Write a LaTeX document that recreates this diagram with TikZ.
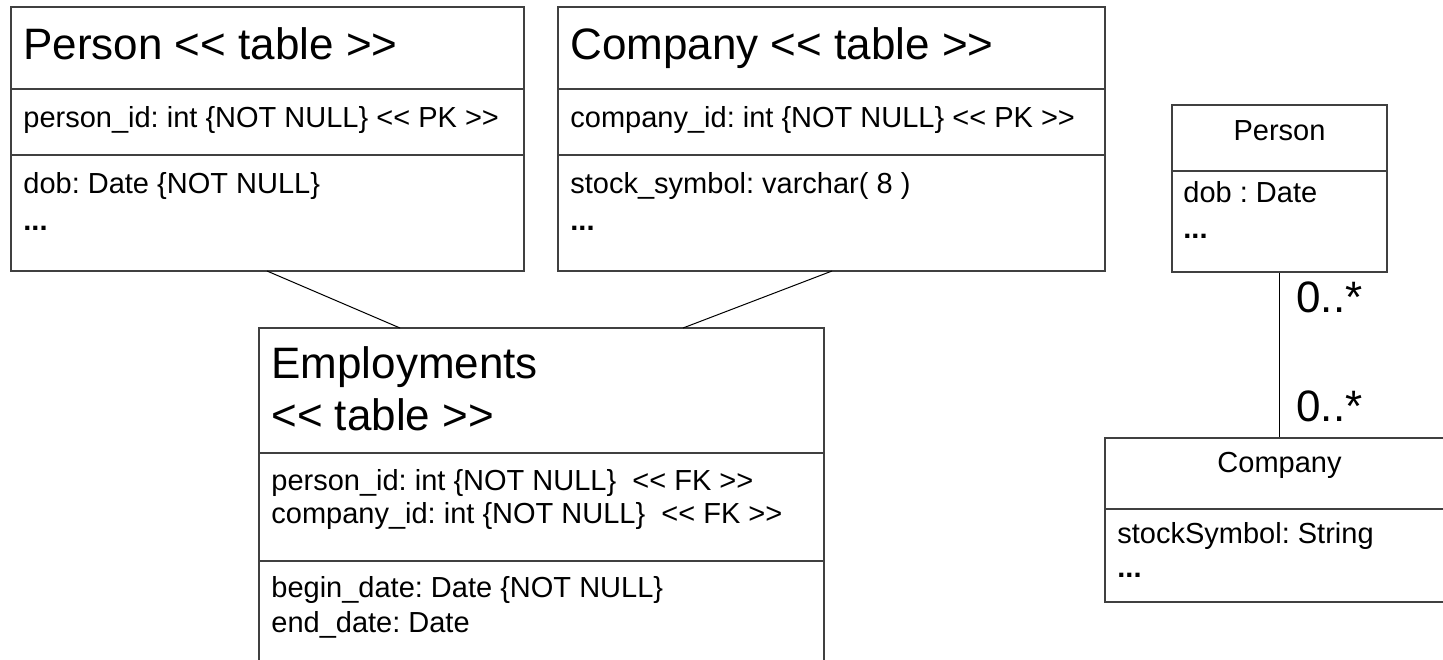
\documentclass[tikz,border=0pt]{standalone}
\usepackage{fontspec}
\newfontfamily\uml{Liberation Sans}
\usetikzlibrary{fit}
\frenchspacing
\tikzset{
  boxline/.style={draw=black!75, line width=0.7pt},
  umlbox/.style={boxline, inner sep=0pt},
  conn/.style={draw=black, line width=0.5pt},
  big/.style={inner sep=0pt, anchor=base west, font=\uml\fontsize{22pt}{26pt}\selectfont},
  small/.style={inner sep=0pt, anchor=base west, font=\uml\fontsize{14.5pt}{17pt}\selectfont},
  smallc/.style={small, anchor=base},
}
\newcommand{\dts}{\textbf{...}}
\begin{document}
\begin{tikzpicture}[x=0.5pt,y=-0.5pt]
\useasboundingbox (0,0) rectangle (1443,659);
\clip (0,0) rectangle (1443,659);
% Person table
\node[umlbox, fit={(11,7) (524,271)}] (ptab) {};
\draw[boxline] (11,89) -- (524,89) (11,155) -- (524,155);
\node[big] (pt1) at (23,59) {Person << table >>};
\node[small] (pt2) at (23,127) {person\_id: int \{NOT NULL\} << PK >>};
\node[small] (pt3) at (23,193) {dob: Date \{NOT NULL\}};
\node[small] (pt4) at (23,230) {\dts};
% Company table
\node[umlbox, fit={(558,7) (1105,271)}] (ctab) {};
\draw[boxline] (558,89) -- (1105,89) (558,155) -- (1105,155);
\node[big] (ct1) at (570,59) {Company << table >>};
\node[small] (ct2) at (570,127) {company\_id: int \{NOT NULL\} << PK >>};
\node[small] (ct3) at (570,193) {stock\_symbol: varchar( 8 )};
\node[small] (ct4) at (570,230) {\dts};
% Employments table
\node[umlbox, fit={(259,328) (824,690)}] (etab) {};
\draw[boxline] (259,453) -- (824,453) (259,561) -- (824,561);
\node[big] (et1) at (271,378) {Employments};
\node[big] (et2) at (271,430) {<< table >>};
\node[small] (et3) at (271,490) {person\_id: int \{NOT NULL\}\ \ << FK >>};
\node[small] (et4) at (271,523) {company\_id: int \{NOT NULL\}\ \ << FK >>};
\node[small] (et5) at (271,597) {begin\_date: Date \{NOT NULL\}};
\node[small] (et6) at (271,632) {end\_date: Date};
% connectors
\coordinate (pa) at (267,271);
\coordinate (pb) at (400,328);
\coordinate (ca) at (832,271);
\coordinate (cb) at (683,328);
\draw[conn] (pa) -- (pb);
\draw[conn] (ca) -- (cb);
% Person class
\node[umlbox, fit={(1172,105) (1387,272)}] (pcls) {};
\draw[boxline] (1172,171) -- (1387,171);
\node[smallc] (pc1) at (1279.5,140) {Person};
\node[small] (pc2) at (1183,202) {dob : Date};
\node[small] (pc3) at (1183,238) {\dts};
% Company class
\node[umlbox, fit={(1105,438) (1454,602)}] (ccls) {};
\draw[boxline] (1105,509) -- (1454,509);
\node[smallc] (cc1) at (1279.5,472) {Company};
\node[small] (cc2) at (1117,543) {stockSymbol: String};
\node[small] (cc3) at (1117,577) {\dts};
% association
\draw[conn] (pcls.south) -- (pcls.south |- ccls.north);
\node[big] (m1) at (1296,312) {0..*};
\node[big] (m2) at (1296,421) {0..*};
\end{tikzpicture}
\end{document}
